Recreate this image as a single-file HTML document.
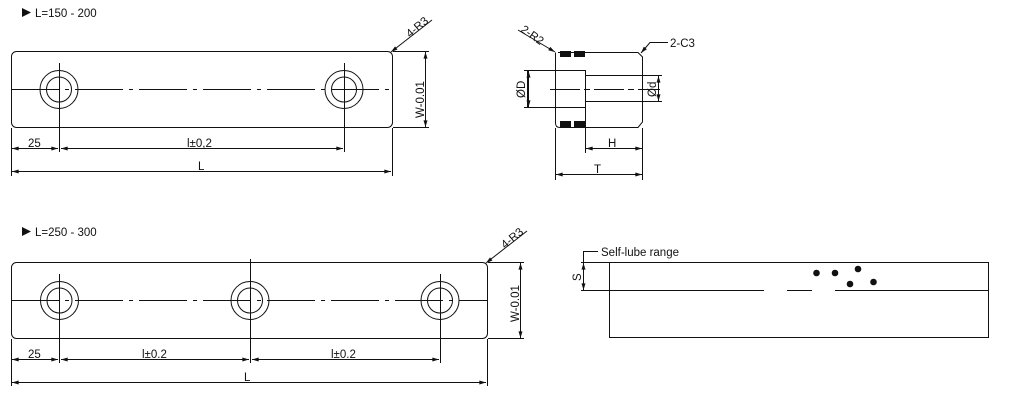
<!DOCTYPE html>
<html><head><style>
html,body{margin:0;padding:0;background:#fff;}
svg{display:block;}
text{font-family:"Liberation Sans",sans-serif;font-size:11.5px;fill:#111;}
</style></head><body>
<svg width="1013" height="412" viewBox="0 0 1013 412" xmlns="http://www.w3.org/2000/svg">
<defs>
<marker id="a" viewBox="0 0 10 6" refX="10" refY="3" markerWidth="8" markerHeight="4" orient="auto-start-reverse"><path d="M0,0 L10,3 L0,6z" fill="#111"/></marker>
</defs>
<g stroke="#111" stroke-width="1" fill="none">
<!-- TOP PLATE -->
<rect x="11.5" y="51.5" width="381" height="76" rx="5"/>
<line x1="11" y1="89.5" x2="392" y2="89.5" stroke-dasharray="48,6,4,6"/>
<circle cx="59" cy="89.5" r="19"/><circle cx="59" cy="89.5" r="12.5"/>
<circle cx="344" cy="89.5" r="19"/><circle cx="344" cy="89.5" r="12.5"/>
<line x1="59.5" y1="63" x2="59.5" y2="152"/>
<line x1="344.5" y1="63" x2="344.5" y2="152"/>
<line x1="11.5" y1="128" x2="11.5" y2="176"/>
<line x1="392.5" y1="128" x2="392.5" y2="176"/>
<line x1="12" y1="148.5" x2="58" y2="148.5" marker-start="url(#a)" marker-end="url(#a)"/>
<line x1="61" y1="148.5" x2="343" y2="148.5" marker-start="url(#a)" marker-end="url(#a)"/>
<line x1="12" y1="171.5" x2="391" y2="171.5" marker-start="url(#a)" marker-end="url(#a)"/>
<line x1="393" y1="51.5" x2="429" y2="51.5"/>
<line x1="393" y1="127.5" x2="429" y2="127.5"/>
<line x1="425.5" y1="52" x2="425.5" y2="127" marker-start="url(#a)" marker-end="url(#a)"/>
<line x1="432" y1="20" x2="391" y2="52" marker-end="url(#a)"/>
<!-- SIDE VIEW -->
<path d="M558,52.5 H638 L642.5,57 V122 L638,127.5 H560 Q555.5,127.5 555.5,123 V52.5"/>
<rect x="527.5" y="70.5" width="58" height="37"/>
<rect x="585.5" y="75.5" width="57" height="26"/>
<line x1="550" y1="89.5" x2="660" y2="89.5" stroke-dasharray="30,4,6,4"/>
<line x1="524" y1="70.5" x2="532" y2="70.5"/><line x1="524" y1="107.5" x2="532" y2="107.5"/>
<line x1="528.5" y1="71" x2="528.5" y2="107" marker-start="url(#a)" marker-end="url(#a)"/>
<line x1="643" y1="75.5" x2="662" y2="75.5"/><line x1="643" y1="101.5" x2="662" y2="101.5"/>
<line x1="658.5" y1="76" x2="658.5" y2="101" marker-start="url(#a)" marker-end="url(#a)"/>
<line x1="555.5" y1="128" x2="555.5" y2="180"/>
<line x1="642.5" y1="128" x2="642.5" y2="180"/>
<line x1="585.5" y1="108" x2="585.5" y2="153"/>
<line x1="586" y1="148.5" x2="642" y2="148.5" marker-start="url(#a)" marker-end="url(#a)"/>
<line x1="556" y1="174.5" x2="642" y2="174.5" marker-start="url(#a)" marker-end="url(#a)"/>
<line x1="518" y1="30" x2="555" y2="52" marker-end="url(#a)"/>
<path d="M668,42.5 H650 L641,53" marker-end="url(#a)"/>
<!-- BOTTOM PLATE -->
<rect x="11.5" y="262.5" width="476" height="76" rx="5"/>
<line x1="11" y1="300.5" x2="487" y2="300.5" stroke-dasharray="48,6,4,6"/>
<circle cx="59.5" cy="300.5" r="19"/><circle cx="59.5" cy="300.5" r="12.5"/>
<circle cx="250" cy="300.5" r="19"/><circle cx="250" cy="300.5" r="12.5"/>
<circle cx="440" cy="300.5" r="19"/><circle cx="440" cy="300.5" r="12.5"/>
<line x1="59.5" y1="274" x2="59.5" y2="363"/>
<line x1="250.5" y1="259" x2="250.5" y2="363"/>
<line x1="440.5" y1="274" x2="440.5" y2="363"/>
<line x1="11.5" y1="339" x2="11.5" y2="386"/>
<line x1="487.5" y1="339" x2="487.5" y2="386"/>
<line x1="12" y1="359.5" x2="58" y2="359.5" marker-start="url(#a)" marker-end="url(#a)"/>
<line x1="61" y1="359.5" x2="249" y2="359.5" marker-start="url(#a)" marker-end="url(#a)"/>
<line x1="252" y1="359.5" x2="439" y2="359.5" marker-start="url(#a)" marker-end="url(#a)"/>
<line x1="12" y1="382.5" x2="486" y2="382.5" marker-start="url(#a)" marker-end="url(#a)"/>
<line x1="488" y1="262.5" x2="524" y2="262.5"/>
<line x1="488" y1="338.5" x2="524" y2="338.5"/>
<line x1="520.5" y1="263" x2="520.5" y2="338" marker-start="url(#a)" marker-end="url(#a)"/>
<line x1="527" y1="231" x2="486" y2="263" marker-end="url(#a)"/>
<!-- SELF LUBE -->
<rect x="609.5" y="262.5" width="379" height="75"/>
<line x1="609" y1="290.5" x2="764" y2="290.5"/>
<line x1="787" y1="290.5" x2="812" y2="290.5"/>
<line x1="835" y1="290.5" x2="989" y2="290.5"/>
<line x1="581" y1="262.5" x2="609" y2="262.5"/>
<line x1="581" y1="290.5" x2="609" y2="290.5"/>
<line x1="583.5" y1="263" x2="583.5" y2="290" marker-start="url(#a)" marker-end="url(#a)"/>
<path d="M583.5,263 V251.5 H598"/>
</g>
<g fill="#111">
<rect x="560" y="51" width="11" height="6"/><rect x="574" y="51" width="11" height="6"/>
<rect x="560" y="121" width="11" height="7"/><rect x="574" y="121" width="11" height="7"/>
<circle cx="816.5" cy="273" r="3.3"/><circle cx="835" cy="273" r="3.3"/>
<circle cx="858" cy="269" r="3.3"/><circle cx="850" cy="284" r="3.3"/><circle cx="873.5" cy="282" r="3.3"/>
<path d="M22,8 L31,12.5 L22,17z"/>
<path d="M22,227 L31,231.5 L22,236z"/>
</g>
<text x="35" y="17">L=150 - 200</text>
<text x="35" y="236">L=250 - 300</text>
<text x="28" y="147">25</text>
<text x="187" y="147">l±0,2</text>
<text x="198" y="170">L</text>
<text x="0" y="0" transform="translate(424,118) rotate(-90)">W-0.01</text>
<text x="0" y="0" transform="translate(410,38) rotate(-40)">4-R3</text>
<text x="0" y="0" transform="translate(520,31) rotate(35)">2-R2</text>
<text x="670" y="47">2-C3</text>
<text x="0" y="0" transform="translate(525,98) rotate(-90)">ØD</text>
<text x="0" y="0" transform="translate(656,97) rotate(-90)">Ød</text>
<text x="608" y="147">H</text>
<text x="594" y="173">T</text>
<text x="28" y="358">25</text>
<text x="142" y="358">l±0.2</text>
<text x="331" y="358">l±0.2</text>
<text x="244" y="381">L</text>
<text x="0" y="0" transform="translate(519,322) rotate(-90)">W-0.01</text>
<text x="0" y="0" transform="translate(505,249) rotate(-40)">4-R3</text>
<text x="601" y="256">Self-lube range</text>
<text x="0" y="0" transform="translate(581,281) rotate(-90)">S</text>
</svg>
</body></html>
